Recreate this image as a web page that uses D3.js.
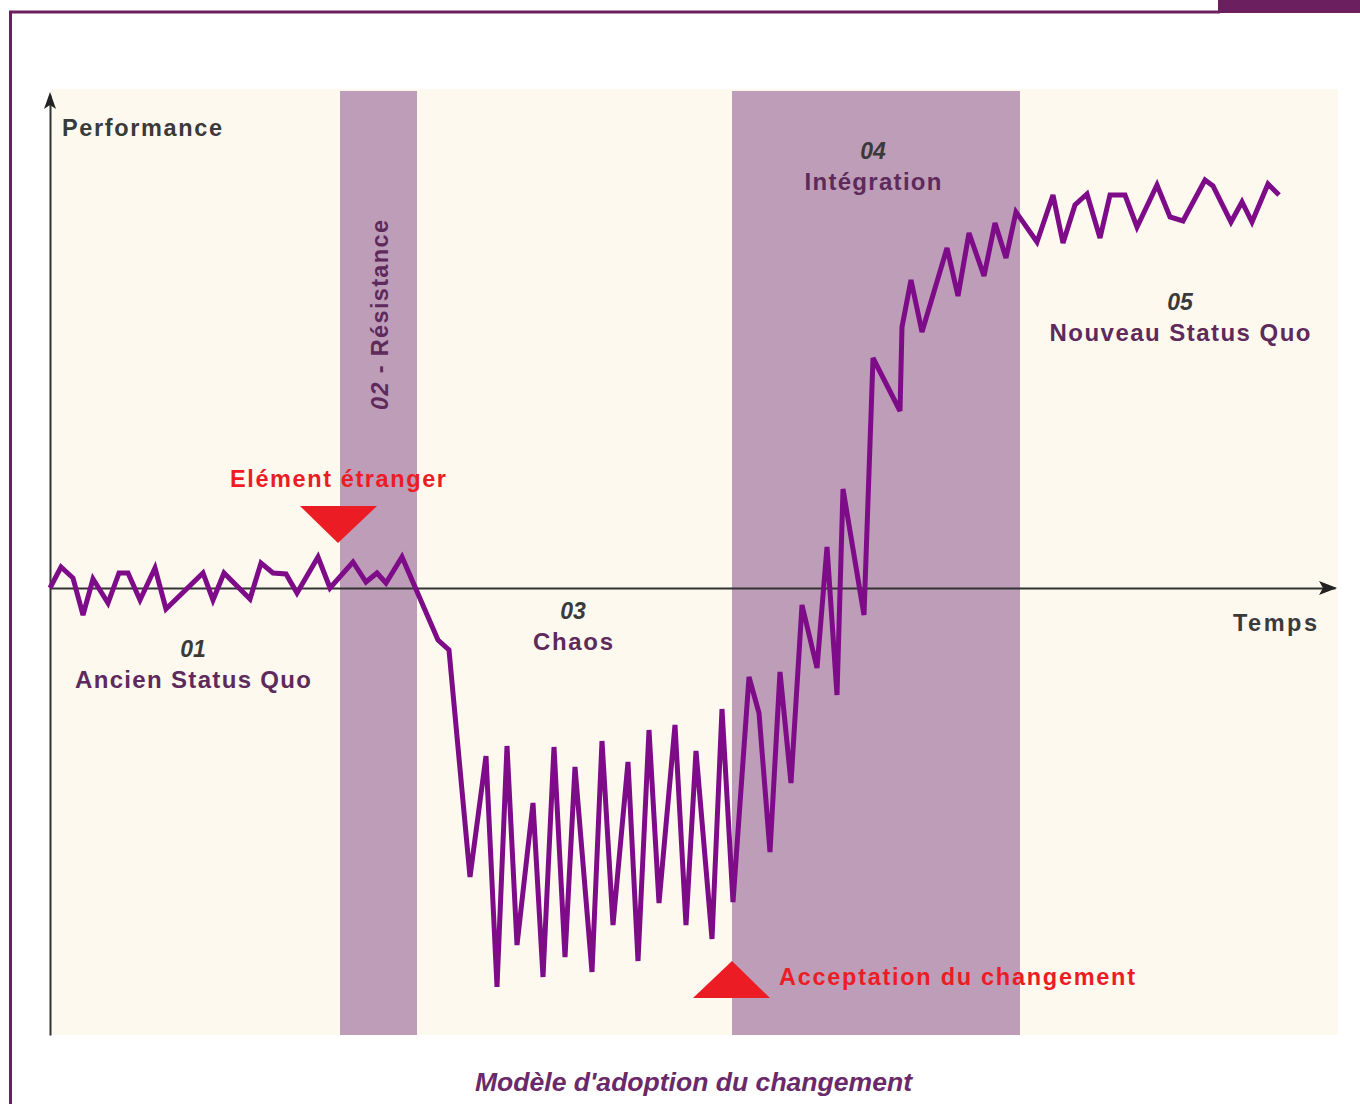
<!DOCTYPE html>
<html>
<head>
<meta charset="utf-8">
<script src="https://cdn.jsdelivr.net/npm/d3@7"></script>
<style>
  html, body { margin: 0; padding: 0; background: #ffffff; }
  svg { display: block; }
</style>
</head>
<body>
<svg id="chart" width="1360" height="1104"></svg>
<script>
// ---------- DATA ----------
// time (arbitrary units) and performance (arbitrary units, 0 = axis)
const time = [0, 1.1, 2.3, 3.3, 4.3, 5.8, 6.9, 7.8, 9.0, 10.5, 11.6, 15.3, 16.3, 17.4, 20.0, 21.1, 22.3, 23.6, 24.7, 26.8,
  28.0, 30.3, 31.6, 32.7, 33.6, 35.2, 38.8, 39.9, 42.0, 43.6, 44.7, 45.7, 46.7, 48.3, 49.3, 50.4, 51.5, 52.5, 54.2, 55.2,
  56.3, 57.8, 58.8, 59.9, 60.9, 62.5, 63.6, 64.6, 66.2, 67.2, 68.3, 69.9, 70.9, 72.0, 73.0, 74.1, 75.2, 76.7, 77.7, 78.7,
  79.3, 81.4, 82.3, 85.0, 85.2, 86.1, 87.2, 89.7, 90.8, 91.9, 93.4, 94.5, 95.6, 96.6, 98.7, 100.3, 101.3, 102.5, 103.7, 105.0,
  106.0, 107.5, 108.7, 110.7, 112.0, 113.3, 115.5, 116.3, 118.1, 119.2, 120.2, 121.8, 122.9];
const performance = [0, 5.25, 2.5, -6.75, 2.25, -3.75, 3.75, 3.75, -3.0, 5.0, -5.25, 3.75, -3.0, 3.75, -2.75, 6.25, 3.75, 3.5, -1.25, 7.75,
  0, 6.5, 1.5, 3.75, 1.25, 7.75, -13, -15.5, -72.25, -42, -99.75, -39.5, -89.25, -53.75, -97.25, -39.75, -92.25, -44.75, -96, -38.25,
  -84.25, -43.5, -93.25, -35.5, -78.75, -34.25, -84.25, -40.75, -87.75, -30.25, -78.5, -22.25, -31.25, -66, -21, -48.75, -4.25, -20, 10.25, -26.75,
  24.75, -6.75, 57.5, 44.25, 65.25, 77, 64, 85, 73, 88.75, 78, 91.25, 82.5, 94, 86.5, 98.25, 86.25, 95.75, 98.5, 87.5,
  98.25, 98.25, 90.25, 100.75, 92.75, 91.75, 102, 100.5, 91.5, 96.5, 91.5, 101, 98.25];

// shaded phases (time start / end)
const bandStart = [29.0, 68.2];
const bandEnd = [36.7, 97.0];

// phase labels: number, name, anchor time, anchor performance (name baseline)
const phaseNumbers = ["01", "03", "04", "05"];
const phaseNames = ["Ancien Status Quo", "Chaos", "Intégration", "Nouveau Status Quo"];
const phaseTime = [14.3, 52.3, 82.3, 113.0];
const phasePerf = [-25, -15.5, 99.5, 61.75];
const phaseNameWidth = [236, 80, 137, 261];

const resistanceLabel = "02 - Résistance";

// events
const eventLabels = ["Elément étranger", "Acceptation du changement"];
const eventTime = [28.8, 68.2];
const eventPerf = [11.25, -102.5];

const axisLabels = ["Performance", "Temps"];
const caption = "Modèle d'adoption du changement";

// ---------- DRAW ----------
const svg = d3.select("#chart");
const x = d3.scaleLinear().domain([0, 128.5]).range([50, 1335]);
const y = d3.scaleLinear().domain([-111.75, 123.25]).range([1035, 95]);

const PURPLE_BORDER = "#6b1f5f";
const BAND = "#bd9db8";
const CREAM = "#fdf9ef";
const LINE = "#7e0b88";
const TXT_PURPLE = "#5e2a5c";
const TXT_GRAY = "#3a3a3a";
const RED = "#ec1c24";

// frame
svg.append("rect").attr("x", 1218).attr("y", 0).attr("width", 142).attr("height", 13).attr("fill", PURPLE_BORDER);
svg.append("line").attr("x1", 9).attr("x2", 1220).attr("y1", 12).attr("y2", 12)
  .attr("stroke", PURPLE_BORDER).attr("stroke-width", 3);
svg.append("line").attr("x1", 10.5).attr("x2", 10.5).attr("y1", 11).attr("y2", 1104)
  .attr("stroke", PURPLE_BORDER).attr("stroke-width", 3);

// plot background
svg.append("rect").attr("x", x(0)).attr("y", 89)
  .attr("width", x(128.8) - x(0)).attr("height", y(-111.75) - 89).attr("fill", CREAM);

// bands
svg.selectAll("rect.band").data(bandStart).enter().append("rect")
  .attr("class", "band")
  .attr("x", (d) => x(d))
  .attr("y", 91)
  .attr("width", (d, i) => x(bandEnd[i]) - x(d))
  .attr("height", y(-111.75) - 91)
  .attr("fill", BAND);

// axes (no ticks)
const gx = svg.append("g").attr("transform", `translate(0,${y(0)})`)
  .call(d3.axisBottom(x).tickValues([]).tickSizeOuter(0));
const gy = svg.append("g").attr("transform", `translate(${x(0)},0)`)
  .call(d3.axisLeft(y).tickValues([]).tickSizeOuter(0));
[gx, gy].forEach(g => g.select(".domain").attr("stroke", "#333").attr("stroke-width", 2));

// arrowheads
const xe = x(128.5), y0 = y(0);
svg.append("path").attr("d", `M${xe + 2},${y0} L${xe - 16},${y0 - 7} L${xe - 12},${y0} L${xe - 16},${y0 + 7} Z`).attr("fill", "#222");
const yt = y(123.25), x0 = x(0);
svg.append("path").attr("d", `M${x0},${yt - 3} L${x0 - 6},${yt + 14} L${x0},${yt + 10} L${x0 + 6},${yt + 14} Z`).attr("fill", "#222");

// line
const pts = time.map((t, i) => [t, performance[i]]);
svg.append("path").datum(pts)
  .attr("fill", "none")
  .attr("stroke", LINE)
  .attr("stroke-width", 5)
  .attr("stroke-linejoin", "miter")
  .attr("stroke-miterlimit", 3)
  .attr("d", d3.line().x(d => x(d[0])).y(d => y(d[1])));

const FONT = "'Liberation Sans', Arial, sans-serif";

// axis labels
svg.append("text").text(axisLabels[0]).attr("x", 62).attr("y", 136)
  .attr("font-family", FONT).attr("font-weight", "bold").attr("font-size", 23.5)
  .attr("fill", TXT_GRAY).attr("textLength", 160).attr("lengthAdjust", "spacing");
svg.append("text").text(axisLabels[1]).attr("x", 1233).attr("y", 631)
  .attr("font-family", FONT).attr("font-weight", "bold").attr("font-size", 23.5)
  .attr("fill", TXT_GRAY).attr("textLength", 84).attr("lengthAdjust", "spacing");

// phase labels
phaseNumbers.forEach((n, i) => {
  const cx = x(phaseTime[i]), by = y(phasePerf[i]);
  svg.append("text").text(n).attr("x", cx).attr("y", by - 31)
    .attr("text-anchor", "middle").attr("font-family", FONT)
    .attr("font-weight", "bold").attr("font-style", "italic").attr("font-size", 23)
    .attr("fill", TXT_GRAY);
  svg.append("text").text(phaseNames[i]).attr("x", cx - phaseNameWidth[i] / 2).attr("y", by)
    .attr("font-family", FONT).attr("font-weight", "bold").attr("font-size", 24)
    .attr("fill", TXT_PURPLE).attr("textLength", phaseNameWidth[i]).attr("lengthAdjust", "spacing");
});

// rotated resistance label
svg.append("text").attr("transform", `translate(388,410) rotate(-90)`)
  .attr("font-family", FONT).attr("font-weight", "bold").attr("font-size", 23.5)
  .attr("fill", TXT_PURPLE).attr("textLength", 190).attr("lengthAdjust", "spacing")
  .call(t => {
    t.append("tspan").attr("font-style", "italic").text(resistanceLabel.slice(0, 2));
    t.append("tspan").text(resistanceLabel.slice(2));
  });

// event markers
// down triangle (foreign element)
{
  const cx = x(eventTime[0]), by = y(eventPerf[0]);
  svg.append("path").attr("d", `M${cx - 38},${by - 37} L${cx + 39},${by - 37} L${cx},${by} Z`).attr("fill", RED);
  svg.append("text").text(eventLabels[0]).attr("x", cx - 108).attr("y", by - 56)
    .attr("font-family", FONT).attr("font-weight", "bold").attr("font-size", 23.5)
    .attr("fill", RED).attr("textLength", 216).attr("lengthAdjust", "spacing");
}
// up triangle (acceptance)
{
  const cx = x(eventTime[1]), by = y(eventPerf[1]);
  svg.append("path").attr("d", `M${cx - 39},${by} L${cx + 38},${by} L${cx},${by - 37} Z`).attr("fill", RED);
  svg.append("text").text(eventLabels[1]).attr("x", cx + 47).attr("y", by - 13)
    .attr("font-family", FONT).attr("font-weight", "bold").attr("font-size", 23.5)
    .attr("fill", RED).attr("textLength", 356).attr("lengthAdjust", "spacing");
}

// caption
svg.append("text").text(caption).attr("x", 475).attr("y", 1091)
  .attr("font-family", FONT).attr("font-weight", "bold").attr("font-style", "italic").attr("font-size", 25)
  .attr("fill", "#6a2a6a").attr("textLength", 437).attr("lengthAdjust", "spacingAndGlyphs");
</script>
</body>
</html>
